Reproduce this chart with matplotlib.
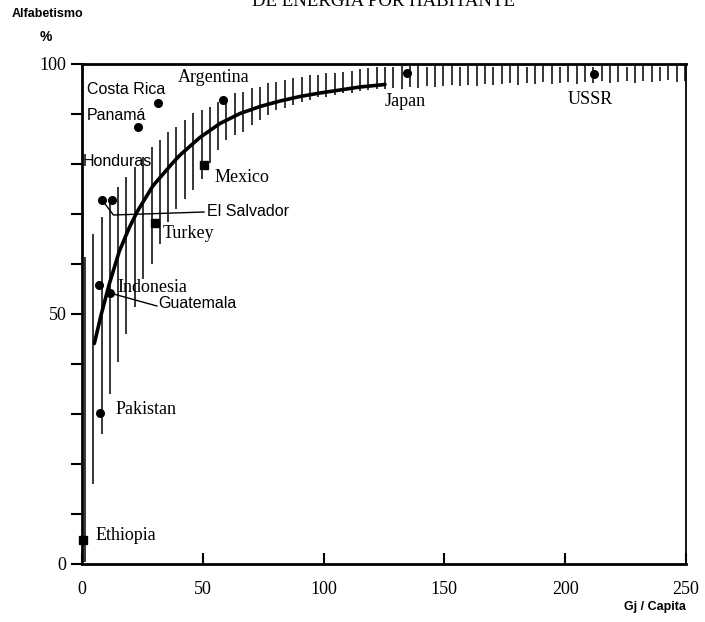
import matplotlib
matplotlib.use("Agg")
import matplotlib.pyplot as plt

# ---- data ----
countries = ["Ethiopia", "Pakistan", "Indonesia", "Guatemala", "Honduras", "El Salvador",
             "Panamá", "Costa Rica", "Argentina", "Mexico", "Turkey", "Japan", "USSR"]
energy = [0.6, 7.5, 7.0, 11.6, 8.3, 12.4, 23.2, 31.5, 58.4, 50.5, 30.2, 134.5, 212.0]
literacy = [4.8, 30.2, 55.8, 54.2, 72.8, 72.8, 87.4, 92.2, 92.8, 79.8, 68.2, 98.2, 98.0]
square_countries = ["Ethiopia", "Mexico", "Turkey"]

curve_x = [5.1, 8.0, 11.3, 15.4, 19.6, 23.0, 29.3, 37.5, 40.6, 48.8, 57.1, 65.4,
           73.7, 82.0, 90.2, 98.5, 106.8, 115.0, 125.4]
curve_y = [44.1, 50.0, 56.0, 62.5, 67.3, 70.6, 75.6, 80.2, 81.8, 85.3, 88.1, 90.1,
           91.5, 92.6, 93.5, 94.2, 94.8, 95.4, 95.9]

bar_x = [1.2, 4.6, 8.1, 11.5, 15.0, 18.4, 21.9, 25.3, 28.8, 32.2, 35.7, 39.1, 42.6,
         46.0, 49.5, 52.9, 56.4, 59.8, 63.3, 66.7, 70.2, 73.6, 77.1, 80.5, 84.0, 87.4,
         90.9, 94.3, 97.8, 101.2, 104.7, 108.1, 111.6, 115.0, 118.5, 121.9, 125.4,
         128.8, 132.3, 135.7, 139.2, 142.6, 146.1, 149.5, 153.0, 156.4, 159.9, 163.3,
         166.8, 170.2, 173.7, 177.1, 180.6, 184.0, 187.5, 190.9, 194.4, 197.8, 201.3,
         204.7, 208.2, 211.6, 215.1, 218.5, 222.0, 225.4, 228.9, 232.3, 235.8, 239.2,
         242.7, 246.1, 249.6]
bar_lo = [0.5, 16, 26, 34, 40.5, 46, 51.5, 57, 60, 64, 68.5, 71, 73,
          74.8, 77, 80.2, 82.8, 84.8, 85.8, 86.4, 87.8, 88.8, 89.8, 90.8, 91.2, 91.8,
          92.4, 92.8, 93.4, 93.4, 93.8, 94.2, 94.2, 94.6, 94.8, 95.0, 95.0,
          95.2, 95.0, 95.4, 95.2, 95.6, 95.4, 95.6, 95.8, 95.6, 95.8, 95.6,
          96.0, 95.8, 96.0, 96.2, 95.8, 96.2, 96.0, 96.4, 96.0, 96.2, 96.4,
          96.0, 96.4, 96.2, 96.6, 96.2, 96.4, 96.6, 96.2, 96.6, 96.4, 96.6,
          96.8, 96.4, 96.6]
bar_hi = [61.4, 66, 69.5, 73, 75.5, 77.5, 79.5, 81.5, 83.5, 84.8, 86.4, 87.4, 88.8,
          90.2, 90.8, 91.5, 92.4, 93.2, 94.2, 94.5, 95.2, 95.4, 96.2, 96.4, 96.8, 97.2,
          97.4, 97.8, 97.8, 98.2, 98.2, 98.4, 98.6, 99.0, 99.2, 99.4, 99.4,
          99.5, 99.7, 99.6, 99.8, 99.5, 99.7, 99.6, 99.8, 99.5, 99.7, 99.6,
          99.8, 99.5, 99.7, 99.6, 99.8, 99.5, 99.7, 99.6, 99.8, 99.5, 99.7,
          99.6, 99.8, 99.5, 99.7, 99.6, 99.8, 99.5, 99.7, 99.6, 99.8, 99.5,
          99.7, 99.6, 99.8]

x_ticks = [0, 50, 100, 150, 200, 250]
y_ticks = [0, 10, 20, 30, 40, 50, 60, 70, 80, 90, 100]
y_ticklabels = ["0", "", "", "", "", "50", "", "", "", "", "100"]

# label positions (data coords, left-aligned) and font style
labels = {
    "Costa Rica": (2.0, 94.8, "sans"),
    "Panamá": (2.0, 89.6, "sans"),
    "Argentina": (39.7, 97.2, "serif"),
    "Honduras": (0.3, 80.4, "sans"),
    "Mexico": (55.0, 77.2, "serif"),
    "El Salvador": (51.7, 70.6, "sans"),
    "Turkey": (33.5, 66.0, "serif"),
    "Indonesia": (14.5, 55.4, "serif"),
    "Guatemala": (31.5, 52.0, "sans"),
    "Pakistan": (13.7, 31.0, "serif"),
    "Ethiopia": (5.4, 5.6, "serif"),
    "Japan": (125.4, 92.4, "serif"),
    "USSR": (201.0, 92.8, "serif"),
}
salvador_leader_x = [8.3, 13.0, 50.5]
salvador_leader_y = [72.8, 69.8, 70.4]
guatemala_leader_x = [11.6, 31.0]
guatemala_leader_y = [54.2, 51.6]

SERIF = ["Liberation Serif", "DejaVu Serif"]
SANS = ["Liberation Sans", "DejaVu Sans"]

fig = plt.figure(figsize=(7.05, 6.22), dpi=100)
ax = fig.add_axes([82 / 705, 1 - 564 / 622, (686 - 82) / 705, (564 - 64) / 622])
ax.set_xlim(0, 250)
ax.set_ylim(0, 100)

ax.vlines(bar_x, bar_lo, bar_hi, colors="black", linewidth=1.1, zorder=2)
ax.plot(curve_x, curve_y, color="black", linewidth=2.6, solid_capstyle="round",
        solid_joinstyle="round", zorder=3)
ax.plot(salvador_leader_x, salvador_leader_y, color="black", linewidth=1.0, zorder=3)
ax.plot(guatemala_leader_x, guatemala_leader_y, color="black", linewidth=1.0, zorder=3)

for c, xv, yv in zip(countries, energy, literacy):
    m = "s" if c in square_countries else "o"
    ax.plot(xv, yv, marker=m, color="black", markersize=5.5, zorder=4, clip_on=False)

for name, (lx, ly, style) in labels.items():
    if style == "serif":
        ax.text(lx, ly, name, family=SERIF, fontsize=13, va="center", ha="left", zorder=5)
    else:
        ax.text(lx, ly, name, family=SANS, fontsize=11.5, va="center", ha="left", zorder=5)

for s in ["left", "bottom", "top"]:
    ax.spines[s].set_linewidth(2.0)
ax.spines["right"].set_linewidth(1.3)

ax.set_xticks(x_ticks)
ax.set_xticklabels([str(t) for t in x_ticks], family=SERIF, fontsize=13)
ax.set_yticks(y_ticks)
ax.set_yticklabels(y_ticklabels, family=SERIF, fontsize=13)
ax.tick_params(axis="x", direction="in", length=8, width=1.5, pad=12)
ax.tick_params(axis="y", direction="out", length=8, width=1.5, pad=3)

fig.text(383 / 705, 1 - 6 / 622, "DE ENERGIA POR HABITANTE", family=SERIF,
         fontsize=13.5, ha="center", va="baseline")
fig.text(12 / 705, 1 - 14 / 622, "Alfabetismo", family=SANS, fontsize=9,
         fontweight="bold", ha="left", va="center")
fig.text(40 / 705, 1 - 37 / 622, "%", family=SANS, fontsize=10,
         fontweight="bold", ha="left", va="center")
fig.text(655 / 705, 1 - 607 / 622, "Gj / Capita", family=SANS, fontsize=9,
         fontweight="bold", ha="center", va="center")

fig.savefig("out.png", dpi=100, facecolor="white")
